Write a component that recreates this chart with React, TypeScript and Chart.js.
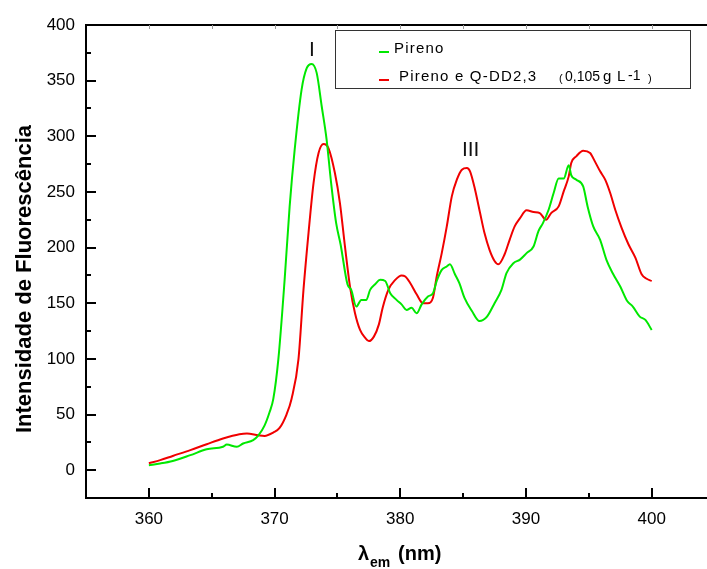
import React, { useEffect, useRef } from 'react';
import { Chart, registerables } from 'chart.js';

Chart.register(...registerables);

// Pireno (green)
const pirenoX = [
  360.0, 360.9, 361.9, 363.3, 364.6, 365.9, 366.2, 367.0, 367.5, 368.3, 368.7, 369.2, 369.6, 369.9,
  370.3, 370.8, 371.2, 371.6, 372.15, 372.55, 372.95, 373.35, 373.75, 374.14, 374.5, 374.9, 375.25,
  375.8, 376.1, 376.5, 376.9, 377.3, 377.6, 378.0, 378.4, 378.8, 379.2, 379.7, 380.1, 380.5, 380.9,
  381.3, 381.7, 382.2, 382.6, 382.9, 383.3, 383.7, 383.95, 384.35, 384.7, 385.1, 385.7, 386.3, 386.9,
  387.5, 388.05, 388.45, 389.0, 389.5, 390.05, 390.6, 391.0, 391.35, 391.8, 392.2, 392.6, 393.0,
  393.4, 393.6, 394.0, 394.55, 394.9, 395.35, 395.9, 396.4, 396.9, 397.5, 398.05, 398.5, 399.05,
  399.5, 400.0,
];
const pirenoY = [
  4.5, 6, 8.3, 13.5, 18.8, 21, 23, 21, 24, 27, 31, 40, 52, 64,
  99.5, 171, 237, 288, 342, 361, 365, 357, 327, 297, 258, 222, 203,
  167, 162, 147, 153, 153, 162, 167, 171, 170, 159, 153, 149, 144, 146,
  141, 149, 156, 159, 170, 180, 183, 185, 176, 168, 155, 143, 134, 138,
  150, 162, 177, 186, 189, 195, 201, 215, 222, 234, 249, 262, 262,
  274, 265, 261, 255, 237, 219, 207, 189, 177, 165, 152, 147, 138,
  135, 126,
];

// Pireno e Q-DD2,3 (red)
const mixX = [
  360.0, 360.9, 361.9, 363.3, 364.6, 365.9, 367.2, 367.8, 368.7, 369.2, 369.9, 370.4, 370.95, 371.35,
  371.9, 372.3, 372.7, 373.1, 373.5, 373.9, 374.3, 374.8, 375.2, 375.6, 376.0, 376.4, 376.8, 377.2,
  377.5, 377.9, 378.3, 378.6, 379.05, 379.6, 380.1, 380.4, 380.8, 381.3, 381.8, 382.2, 382.6, 382.9,
  383.3, 383.7, 384.1, 384.5, 384.9, 385.3, 385.55, 385.95, 386.35, 386.7, 387.1, 387.5, 387.8, 388.3,
  388.7, 389.1, 389.5, 390.05, 390.6, 391.1, 391.6, 392.0, 392.6, 393.0, 393.4, 393.6, 394.0, 394.55,
  395.1, 395.5, 395.9, 396.3, 396.7, 397.1, 397.6, 398.15, 398.7, 399.2, 399.6, 400.0,
];
const mixY = [
  6.3, 9, 12.8, 18, 23.3, 28.4, 32.3, 33, 31.4, 30.8, 33.8, 38, 50, 64,
  99.5, 162, 213, 258, 285, 293, 289, 267, 240, 201, 165, 141, 126, 119,
  116, 120, 131, 146, 162, 171, 175, 174, 168, 158, 150, 150, 155, 174,
  195, 219, 246, 261, 270, 271.5, 268.5, 252, 231, 213, 198, 188, 185, 194,
  207, 219, 226, 233.5, 232, 231, 225, 231, 237, 250.5, 264, 276, 282, 287,
  285, 277, 268.5, 261, 249, 234, 218, 203, 191, 176, 172, 170,
];

const xTicks = [360, 370, 380, 390, 400];
const xMinorTicks = [365, 375, 385, 395];
const yTicks = [0, 50, 100, 150, 200, 250, 300, 350, 400];
const yMinorTicks = [25, 75, 125, 175, 225, 275, 325, 375];
const seriesNames = ['Pireno', 'Pireno e Q-DD2,3'];
const peakNames = ['I', 'III'];
const peakX = [372.97, 385.6];
const peakY = [377.6, 287.9];

const FONT = '"Liberation Sans", Arial, sans-serif';
const GREEN = 'rgb(0,232,0)';
const RED = 'rgb(240,0,0)';

const decor = {
  id: 'decor',
  afterDraw(chart: any) {
    const { ctx, chartArea: a, scales } = chart;
    const x = scales.x;
    const y = scales.y;
    ctx.save();
    ctx.strokeStyle = '#000';
    ctx.lineWidth = 2;
    ctx.beginPath();
    ctx.moveTo(a.right + 4, a.top);
    ctx.lineTo(a.left, a.top);
    ctx.lineTo(a.left, a.bottom);
    ctx.lineTo(a.right + 4, a.bottom);
    ctx.stroke();

    // y ticks (inside)
    ctx.beginPath();
    yTicks.forEach((v) => {
      const p = Math.round(y.getPixelForValue(v));
      ctx.moveTo(a.left, p);
      ctx.lineTo(a.left + 10, p);
    });
    yMinorTicks.forEach((v) => {
      const p = Math.round(y.getPixelForValue(v));
      ctx.moveTo(a.left, p);
      ctx.lineTo(a.left + 5, p);
    });
    // x ticks bottom
    xTicks.forEach((v) => {
      const p = Math.round(x.getPixelForValue(v));
      ctx.moveTo(p, a.bottom);
      ctx.lineTo(p, a.bottom - 10);
    });
    xMinorTicks.forEach((v) => {
      const p = Math.round(x.getPixelForValue(v));
      ctx.moveTo(p, a.bottom);
      ctx.lineTo(p, a.bottom - 5);
    });
    ctx.stroke();

    // faint top ticks
    ctx.strokeStyle = '#999';
    ctx.lineWidth = 1;
    ctx.beginPath();
    [...xTicks, ...xMinorTicks].forEach((v) => {
      const p = Math.round(x.getPixelForValue(v)) + 0.5;
      ctx.moveTo(p, a.top);
      ctx.lineTo(p, a.top + 4);
    });
    ctx.stroke();

    // peak labels
    ctx.fillStyle = '#111';
    ctx.font = `21px ${FONT}`;
    ctx.textAlign = 'center';
    ctx.textBaseline = 'middle';
    peakNames.forEach((t, i) => {
      ctx.fillText(t, x.getPixelForValue(peakX[i]), y.getPixelForValue(peakY[i]));
    });

    // legend
    ctx.fillStyle = '#fff';
    ctx.fillRect(336, 31, 354, 57);
    ctx.strokeStyle = '#333';
    ctx.lineWidth = 1;
    ctx.strokeRect(335.5, 30.5, 355, 58);
    ctx.lineWidth = 2;
    ctx.strokeStyle = GREEN;
    ctx.beginPath();
    ctx.moveTo(379, 52);
    ctx.lineTo(389, 52);
    ctx.stroke();
    ctx.strokeStyle = RED;
    ctx.beginPath();
    ctx.moveTo(379, 80);
    ctx.lineTo(389, 80);
    ctx.stroke();
    ctx.fillStyle = '#000';
    ctx.textAlign = 'left';
    ctx.textBaseline = 'alphabetic';
    ctx.font = `15px ${FONT}`;
    (ctx as any).letterSpacing = '1.2px';
    ctx.fillText(seriesNames[0], 394, 53);
    ctx.fillText(seriesNames[1], 399, 81);
    (ctx as any).letterSpacing = '0px';
    ctx.font = `14px ${FONT}`;
    ctx.fillText('0,105', 565, 81);
    ctx.font = `15px ${FONT}`;
    ctx.fillText('g', 603, 81);
    ctx.fillText('L', 617, 81);
    ctx.font = `14px ${FONT}`;
    ctx.fillText('-1', 628, 80);
    ctx.font = `11px ${FONT}`;
    ctx.fillText('(', 559, 82);
    ctx.fillText(')', 648, 82);

    // y title
    ctx.save();
    ctx.translate(25, 279);
    ctx.rotate(-Math.PI / 2);
    ctx.font = `bold 22px ${FONT}`;
    ctx.textAlign = 'center';
    ctx.textBaseline = 'middle';
    ctx.fillStyle = '#000';
    ctx.fillText('Intensidade de Fluorescência', 0, 0);
    ctx.restore();

    // x title
    ctx.fillStyle = '#000';
    ctx.textAlign = 'left';
    ctx.textBaseline = 'alphabetic';
    ctx.font = `bold 20px ${FONT}`;
    ctx.fillText('λ', 358, 560);
    ctx.font = `bold 14px ${FONT}`;
    ctx.fillText('em', 370, 567);
    ctx.font = `bold 20px ${FONT}`;
    ctx.fillText('(nm)', 398, 560);
    ctx.restore();
  },
};

export default function App() {
  const ref = useRef<HTMLCanvasElement>(null);
  useEffect(() => {
    const chart = new Chart(ref.current as HTMLCanvasElement, {
      type: 'line',
      data: {
        datasets: [
          {
            label: seriesNames[0],
            data: pirenoX.map((v, i) => ({ x: v, y: pirenoY[i] })),
            borderColor: GREEN,
            borderWidth: 2,
            pointRadius: 0,
            fill: false,
            cubicInterpolationMode: 'monotone',
          },
          {
            label: seriesNames[1],
            data: mixX.map((v, i) => ({ x: v, y: mixY[i] })),
            borderColor: RED,
            borderWidth: 2,
            pointRadius: 0,
            fill: false,
            cubicInterpolationMode: 'monotone',
          },
        ],
      },
      options: {
        animation: false,
        responsive: false,
        devicePixelRatio: 1,
        layout: { padding: { top: 25, left: 0, right: 0, bottom: 0 } },
        plugins: { legend: { display: false }, tooltip: { enabled: false }, title: { display: false } },
        scales: {
          x: {
            type: 'linear',
            min: 355,
            max: 404.4,
            grid: { display: false, drawTicks: false },
            border: { display: false },
            ticks: { font: { family: FONT, size: 17 }, color: '#000', padding: 11, maxRotation: 0 },
            afterBuildTicks: (s: any) => {
              s.ticks = xTicks.map((v) => ({ value: v }));
            },
            afterFit: (s: any) => {
              s.height = 71;
            },
          },
          y: {
            type: 'linear',
            min: -25,
            max: 400,
            grid: { display: false, drawTicks: false },
            border: { display: false },
            ticks: { font: { family: FONT, size: 17 }, color: '#000', padding: 11 },
            afterBuildTicks: (s: any) => {
              s.ticks = yTicks.map((v) => ({ value: v }));
            },
            afterFit: (s: any) => {
              s.width = 86;
            },
          },
        },
      },
      plugins: [decor],
    } as any);
    return () => chart.destroy();
  }, []);
  return (
    <div style={{ position: 'absolute', left: 0, top: 0, width: 707, height: 569, background: '#fff', overflow: 'hidden' }}>
      <canvas ref={ref} width={707} height={569} style={{ display: 'block' }} />
    </div>
  );
}
